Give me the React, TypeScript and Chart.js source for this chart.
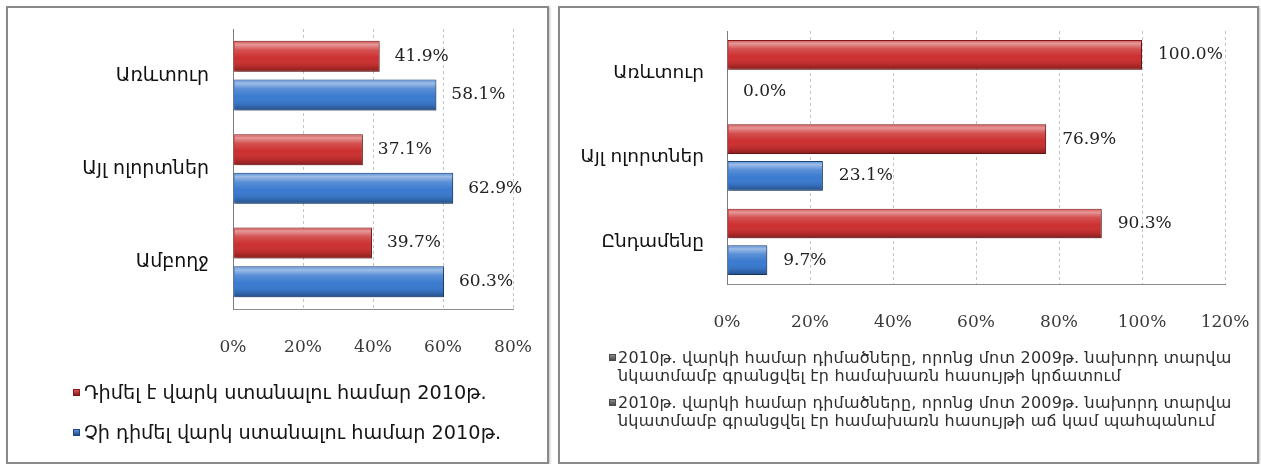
import React, { useEffect, useRef } from "react";
import { Chart, registerables } from "chart.js";

Chart.register(...registerables);

// ---------- Left chart data ----------
const leftCategories = ["Առևտուր", "Այլ ոլորտներ", "Ամբողջ"];
const leftApplied = [41.9, 37.1, 39.7];
const leftNotApplied = [58.1, 62.9, 60.3];
const leftSeriesNames = [
  "Դիմել է վարկ ստանալու համար 2010թ.",
  "Չի դիմել վարկ ստանալու համար 2010թ.",
];
const leftAxisMax = 80;
const leftAxisStep = 20;

// ---------- Right chart data ----------
const rightCategories = ["Առևտուր", "Այլ ոլորտներ", "Ընդամենը"];
const rightDecline = [100.0, 76.9, 90.3];
const rightGrowth = [0.0, 23.1, 9.7];
const rightSeriesNames = [
  [
    "2010թ. վարկի համար դիմածները, որոնց մոտ 2009թ. նախորդ տարվա",
    "նկատմամբ գրանցվել էր համախառն հասույթի կրճատում",
  ],
  [
    "2010թ. վարկի համար դիմածները, որոնց մոտ 2009թ. նախորդ տարվա",
    "նկատմամբ գրանցվել էր համախառն հասույթի աճ կամ պահպանում",
  ],
];
const rightAxisMax = 120;
const rightAxisStep = 20;

const RED = "#cc3030";
const RED_DARK = "#861a1a";
const BLUE = "#3a7acf";
const BLUE_DARK = "#1e4884";

const SANS = "'DejaVu Sans', sans-serif";
const SERIF = "'DejaVu Serif', serif";

function makeDecor(labelFont: string, labelColor: string, offset: number) {
  return {
    id: "barDecor",
    beforeDatasetsDraw(chart: any) {
      const ctx = chart.ctx;
      ctx.save();
      ctx.shadowColor = "rgba(0,0,0,0.35)";
      ctx.shadowBlur = 4;
      ctx.shadowOffsetX = 2;
      ctx.shadowOffsetY = 2;
    },
    afterDatasetsDraw(chart: any) {
      const ctx = chart.ctx;
      ctx.restore();
      chart.data.datasets.forEach((ds: any, di: number) => {
        const meta = chart.getDatasetMeta(di);
        meta.data.forEach((el: any, i: number) => {
          const { x, y, base, height } = el.getProps(["x", "y", "base", "height"], true);
          const left = Math.min(x, base);
          const w = Math.abs(x - base);
          const top = y - height / 2;
          if (w > 2) {
            const g = ctx.createLinearGradient(0, top, 0, top + height);
            g.addColorStop(0, "rgba(255,255,255,0.15)");
            g.addColorStop(0.12, "rgba(255,255,255,0.5)");
            g.addColorStop(0.3, "rgba(255,255,255,0.16)");
            g.addColorStop(0.55, "rgba(255,255,255,0)");
            g.addColorStop(0.8, "rgba(0,0,0,0.08)");
            g.addColorStop(1, "rgba(0,0,0,0.35)");
            ctx.save();
            ctx.fillStyle = g;
            ctx.fillRect(left + 1, top + 1, w - 2, height - 2);
            ctx.restore();
          }
          const v = ds.data[i] as number;
          ctx.save();
          ctx.font = labelFont;
          ctx.fillStyle = labelColor;
          ctx.textBaseline = "middle";
          ctx.textAlign = "left";
          ctx.fillText(v.toFixed(1) + "%", Math.max(x, base) + offset, y);
          ctx.restore();
        });
      });
    },
  };
}

type ChartSpec = {
  categories: string[];
  series: number[][];
  names: string[];
  colors: string[];
  borders: string[];
  max: number;
  step: number;
  yWidth: number;
  xHeight: number;
  padTop: number;
  padRight: number;
  catPct: number;
  barPct: number;
  catFontSize: number;
  tickFontSize: number;
  tickPadding: number;
  catPadding: number;
  labelFont: string;
  labelOffset: number;
};

function BarCanvas(props: { spec: ChartSpec; left: number; top: number; width: number; height: number }) {
  const ref = useRef<HTMLCanvasElement | null>(null);
  const { spec } = props;
  useEffect(() => {
    if (!ref.current) return;
    const chart = new Chart(ref.current, {
      type: "bar",
      data: {
        labels: spec.categories,
        datasets: spec.series.map((d, k) => ({
          label: spec.names[k],
          data: d,
          backgroundColor: spec.colors[k],
          borderColor: spec.borders[k],
          borderWidth: 1,
          categoryPercentage: spec.catPct,
          barPercentage: spec.barPct,
        })),
      },
      options: {
        indexAxis: "y",
        responsive: false,
        animation: false,
        devicePixelRatio: 1,
        layout: { padding: { left: 0, top: spec.padTop, right: spec.padRight, bottom: 0 } },
        plugins: { legend: { display: false }, tooltip: { enabled: false } },
        scales: {
          x: {
            min: 0,
            max: spec.max,
            ticks: {
              stepSize: spec.step,
              callback: (v: any) => v + "%",
              font: { family: SERIF, size: spec.tickFontSize },
              color: "#3a3a3a",
              padding: spec.tickPadding,
              maxRotation: 0,
            },
            grid: { color: "#c4c4c4", drawTicks: false, lineWidth: 1 },
            border: { color: "#8c8c8c", width: 1, dash: [3, 3] },
            afterFit: (s: any) => {
              s.height = spec.xHeight;
              s.paddingLeft = 0;
              s.paddingRight = 0;
            },
          },
          y: {
            ticks: {
              font: { family: SANS, size: spec.catFontSize },
              color: "#111",
              padding: spec.catPadding,
            },
            grid: { display: false, drawTicks: false },
            border: { color: "#7c7c7c", width: 1 },
            afterFit: (s: any) => {
              s.width = spec.yWidth;
              s.paddingTop = 0;
              s.paddingBottom = 0;
            },
          },
        },
      } as any,
      plugins: [makeDecor(spec.labelFont, "#222", spec.labelOffset)],
    });
    return () => chart.destroy();
  }, []);
  return (
    <canvas
      ref={ref}
      width={props.width}
      height={props.height}
      style={{ position: "absolute", left: props.left, top: props.top, width: props.width, height: props.height }}
    />
  );
}

function Marker(props: { left: number; top: number; color: string; dark: string }) {
  return (
    <div
      style={{
        position: "absolute",
        left: props.left,
        top: props.top,
        width: 7,
        height: 7,
        background: `linear-gradient(${props.color}, ${props.dark})`,
        border: `1px solid ${props.dark}`,
        boxSizing: "border-box",
      }}
    />
  );
}

export default function App() {
  const leftSpec: ChartSpec = {
    categories: leftCategories,
    series: [leftApplied, leftNotApplied],
    names: leftSeriesNames,
    colors: [RED, BLUE],
    borders: [RED_DARK, BLUE_DARK],
    max: leftAxisMax,
    step: leftAxisStep,
    yWidth: 225,
    xHeight: 151,
    padTop: 21,
    padRight: 34,
    catPct: 0.83,
    barPct: 0.8,
    catFontSize: 19,
    tickFontSize: 17,
    tickPadding: 28,
    catPadding: 24,
    labelFont: `17px ${SERIF}`,
    labelOffset: 15,
  };
  const rightSpec: ChartSpec = {
    categories: rightCategories,
    series: [rightDecline, rightGrowth],
    names: rightSeriesNames.map((l) => l.join(" ")),
    colors: [RED, BLUE],
    borders: [RED_DARK, BLUE_DARK],
    max: rightAxisMax,
    step: rightAxisStep,
    yWidth: 167,
    xHeight: 176,
    padTop: 23,
    padRight: 32,
    catPct: 0.87,
    barPct: 0.81,
    catFontSize: 18.5,
    tickFontSize: 17,
    tickPadding: 28,
    catPadding: 23,
    labelFont: `17px ${SERIF}`,
    labelOffset: 16,
  };

  const panel = (left: number, width: number): React.CSSProperties => ({
    position: "absolute",
    left,
    top: 6,
    width,
    height: 458,
    border: "2px solid #8a8a8a",
    boxSizing: "border-box",
    background: "#ffffff",
    boxShadow: "1px 1px 2px rgba(0,0,0,0.25)",
  });

  const leftLegendTops = [393, 433];
  const rightLegendTops = [358, 403];
  const rightLineGap = 18;

  return (
    <div style={{ position: "absolute", left: 0, top: 0, width: 1261, height: 464, background: "#fff", overflow: "hidden" }}>
      <div style={panel(6, 543)} />
      <div style={panel(558, 701)} />
      <BarCanvas spec={leftSpec} left={8} top={8} width={539} height={452} />
      <BarCanvas spec={rightSpec} left={560} top={8} width={697} height={452} />

      {leftSeriesNames.map((name, k) => (
        <React.Fragment key={"l" + k}>
          <Marker left={73} top={leftLegendTops[k] - 4} color={k === 0 ? "#e05050" : "#5a95e0"} dark={k === 0 ? RED_DARK : BLUE_DARK} />
          <div
            style={{
              position: "absolute",
              left: 84,
              top: leftLegendTops[k] - 12,
              height: 24,
              lineHeight: "24px",
              fontFamily: SANS,
              fontSize: 19.3,
              color: "#151515",
              whiteSpace: "nowrap",
            }}
          >
            {name}
          </div>
        </React.Fragment>
      ))}

      {rightSeriesNames.map((lines, k) => (
        <React.Fragment key={"r" + k}>
          <Marker left={609} top={rightLegendTops[k] - 4} color="#8a8a8a" dark="#4a4a4a" />
          {lines.map((line, j) => (
            <div
              key={j}
              style={{
                position: "absolute",
                left: 618,
                top: rightLegendTops[k] + j * rightLineGap - 10,
                height: 20,
                lineHeight: "20px",
                fontFamily: SANS,
                fontSize: 16,
                letterSpacing: "0.2px",
                color: "#2e2e2e",
                whiteSpace: "nowrap",
              }}
            >
              {line}
            </div>
          ))}
        </React.Fragment>
      ))}
    </div>
  );
}
